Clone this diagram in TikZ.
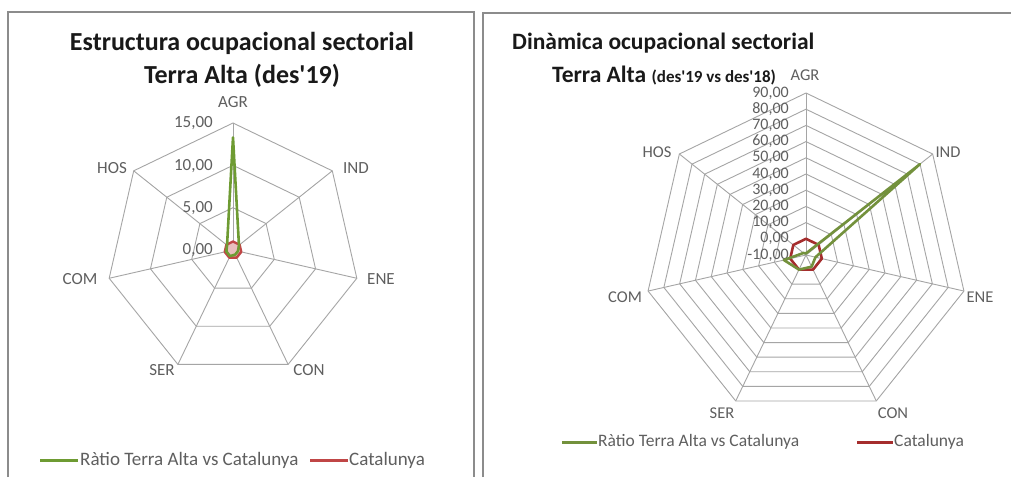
\documentclass[tikz,border=0pt]{standalone}
\usepackage{fontspec}
\setmainfont{Carlito}
\definecolor{gridc}{RGB}{165,165,165}
\definecolor{framec}{RGB}{140,140,140}
\definecolor{lblc}{RGB}{95,95,95}
\definecolor{titc}{RGB}{25,25,25}
\definecolor{grnA}{RGB}{110,155,50}
\definecolor{grnB}{RGB}{115,145,60}
\definecolor{redA}{RGB}{192,70,70}
\definecolor{redB}{RGB}{165,45,45}
\newcommand\Lpt[2]{({233+(#2)*8.467*cos(90-(#1)*360/7)},{250-(#2)*8.467*sin(90-(#1)*360/7)})}
\newcommand\Rpt[2]{({806+((#2)+10)*1.62*cos(90-(#1)*360/7)},{255-((#2)+10)*1.62*sin(90-(#1)*360/7)})}
\newcommand\sq{\textquotesingle}
\begin{document}
\begin{tikzpicture}[x=1pt,y=-1pt,
  grid/.style={draw=gridc,line width=0.9pt},
  frame/.style={draw=framec,line width=1.3pt},
  cat/.style={text=lblc,font=\fontsize{17}{19}\selectfont,inner sep=0pt},
  catR/.style={text=lblc,font=\fontsize{16.5}{18}\selectfont,inner sep=0pt},
  val/.style={text=lblc,font=\fontsize{17}{19}\selectfont,inner sep=0pt,anchor=east},
  valR/.style={text=lblc,font=\fontsize{16}{17}\selectfont,inner sep=0pt,anchor=east},
  ttl/.style={text=titc,font=\fontsize{26}{28}\selectfont\bfseries,inner sep=0pt},
  ttlR/.style={text=titc,font=\fontsize{23.5}{26}\selectfont\bfseries,inner sep=0pt,anchor=west},
  leg/.style={text=lblc,font=\fontsize{19}{21}\selectfont,inner sep=0pt,anchor=west},
  legR/.style={text=lblc,font=\fontsize{17.5}{19}\selectfont,inner sep=0pt,anchor=west}]
\useasboundingbox[fill=white] (0,0) rectangle (1011,477);
% panel frames
\draw[frame] (8,477) -- (8,12) -- (474,12) -- (474,477);
\draw[frame] (483,477) -- (483,13) -- (1011,13);
% ---------- left chart ----------
\foreach \r in {5,10,15}{
  \draw[grid] \Lpt{0}{\r} \foreach \i in {1,...,6}{ -- \Lpt{\i}{\r} } -- cycle;
}
\foreach \i in {0,...,6}{ \draw[grid] \Lpt{\i}{0} -- \Lpt{\i}{15}; }
\node[ttl] (t1a) at (242,43) {Estructura ocupacional sectorial};
\node[ttl] (t1b) at (242,76) {Terra Alta (des\sq19)};
\node[cat] (lagr) at (233,102) {AGR};
\node[cat] (lind) at (356,168) {IND};
\node[cat] (lene) at (381,279) {ENE};
\node[cat] (lcon) at (309,370) {CON};
\node[cat] (lser) at (162,370) {SER};
\node[cat] (lcom) at (80,279) {COM};
\node[cat] (lhos) at (112,168) {HOS};
\node[val] (lv15) at (213,123) {15,00};
\node[val] (lv10) at (213,166) {10,00};
\node[val] (lv5) at (213,208) {5,00};
\node[val] (lv0) at (213,250) {0,00};
\draw[draw=redA,fill=redA!35,line width=2.4pt,line join=round] \Lpt{0}{1} \foreach \i in {1,...,6}{ -- \Lpt{\i}{1} } -- cycle;
\draw[draw=grnA,line width=2.6pt,line join=round] \Lpt{0}{13.3} -- \Lpt{1}{0.9} -- \Lpt{2}{0.6} -- \Lpt{3}{0.6} -- \Lpt{4}{0.8} -- \Lpt{5}{0.8} -- \Lpt{6}{0.9} -- cycle;
\coordinate (lg1a) at (40,460); \coordinate (lg1b) at (78,460);
\draw[grnA,line width=3pt] (lg1a) -- (lg1b);
\node[leg] (lgt1) at (80,460) {Ràtio Terra Alta vs Catalunya};
\coordinate (lg2a) at (310,460); \coordinate (lg2b) at (348,460);
\draw[redA,line width=3pt] (lg2a) -- (lg2b);
\node[leg] (lgt2) at (349,460) {Catalunya};
% ---------- right chart ----------
\foreach \k in {0,...,9}{
  \pgfmathsetmacro\vv{\k*10}
  \draw[grid] \Rpt{0}{\vv} \foreach \i in {1,...,6}{ -- \Rpt{\i}{\vv} } -- cycle;
}
\foreach \i in {0,...,6}{ \draw[grid] \Rpt{\i}{-10} -- \Rpt{\i}{90}; }
\node[ttlR] (t2a) at (512,43) {Dinàmica ocupacional sectorial};
\node[ttlR] (t2b) at (552,76) {Terra Alta \fontsize{17}{19}\selectfont(des\sq19 vs des\sq18)};
\node[catR] (ragr) at (805,75) {AGR};
\node[catR] (rind) at (948,152) {IND};
\node[catR] (rene) at (980,297) {ENE};
\node[catR] (rcon) at (893,413) {CON};
\node[catR] (rser) at (722,413) {SER};
\node[catR] (rcom) at (625,297) {COM};
\node[catR] (rhos) at (657,152) {HOS};
\foreach \k in {0,...,10}{
  \pgfmathtruncatemacro\vi{\k*10-10}
  \node[valR] (rv\k) at ({789},{255-(\k*16.2)}) {\vi,00};
}
\draw[draw=redB,line width=2.6pt,line join=round] \Rpt{0}{0} \foreach \i in {1,...,6}{ -- \Rpt{\i}{0} } -- cycle;
\draw[draw=grnB,line width=2.6pt,line join=round] \Rpt{0}{-9} -- \Rpt{1}{80} -- \Rpt{2}{-4} -- \Rpt{3}{-2} -- \Rpt{4}{0} -- \Rpt{5}{4} -- \Rpt{6}{-8} -- cycle;
\coordinate (rg1a) at (562,442); \coordinate (rg1b) at (597,442);
\draw[grnB,line width=3pt] (rg1a) -- (rg1b);
\node[legR] (rgt1) at (598,442) {Ràtio Terra Alta vs Catalunya};
\coordinate (rg2a) at (857,442); \coordinate (rg2b) at (893,442);
\draw[redB,line width=3pt] (rg2a) -- (rg2b);
\node[legR] (rgt2) at (894,442) {Catalunya};
\end{tikzpicture}
\end{document}
